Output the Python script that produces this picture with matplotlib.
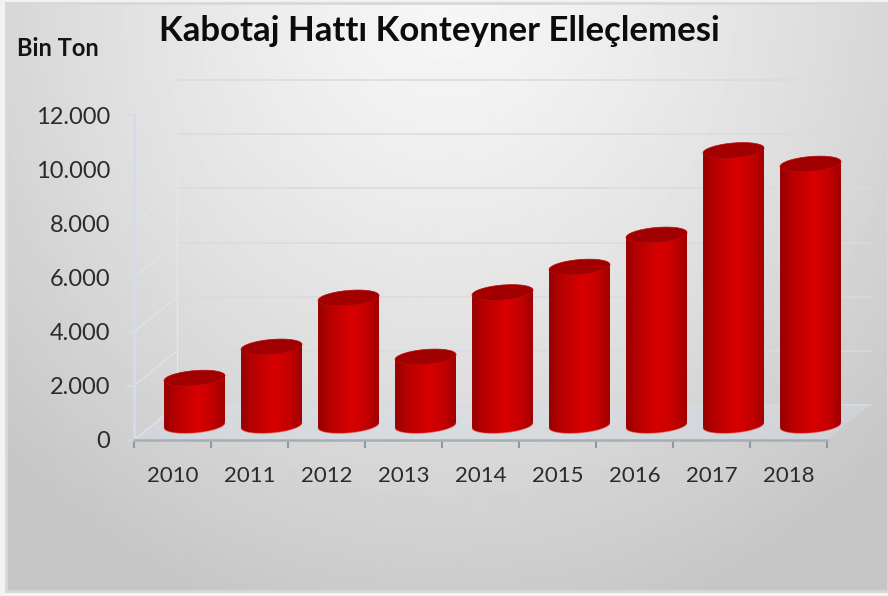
import numpy as np
import matplotlib
matplotlib.use('Agg')
import matplotlib.pyplot as plt
from matplotlib.colors import LinearSegmentedColormap
from matplotlib.patches import Polygon

years = ['2010', '2011', '2012', '2013', '2014', '2015', '2016', '2017', '2018']
tonnage = [1750, 2900, 4710, 2530, 4910, 5850, 7035, 10155, 9655]
y_ticks = [0, 2000, 4000, 6000, 8000, 10000, 12000]
y_labels = ['0', '2.000', '4.000', '6.000', '8.000', '10.000', '12.000']

plt.rcParams['font.family'] = ['Lato', 'DejaVu Sans']

fig = plt.figure(figsize=(8.88, 5.96), dpi=100, facecolor='#f2f2f2')

# grey background, light at the top middle and darker towards the corners
bg_ax = fig.add_axes([6 / 888, 5 / 596, 882 / 888, 588 / 596], zorder=-1)
xx, yy = np.meshgrid(np.linspace(0, 1, 441), np.linspace(0, 1, 294))
dist = np.sqrt(((xx - 0.5) * 1.5) ** 2 + (yy * 0.95) ** 2)
shade = 0.965 - 0.19 * np.clip(dist / 1.05, 0, 1) ** 1.3
bg_ax.imshow(shade, cmap='gray', vmin=0, vmax=1, aspect='auto')
bg_ax.set_xticks([])
bg_ax.set_yticks([])
for s in bg_ax.spines.values():
    s.set_color('#d8d8d8')
    s.set_linewidth(2)

ax = fig.add_axes([134 / 888, 156 / 596, 693 / 888, 325 / 596])
ax.patch.set_visible(False)

# 3d offsets of the chart box, in axis units
wall_dx = 0.558
wall_dy = 1292
bar_dx = 0.286
bar_dy = 535
bar_a = 0.396
bar_h = 277
bar_tilt = 92
x0, x1 = -0.5, 8.5

# back wall and floor
floor = Polygon([(x0, 0), (x1, 0), (x1 + wall_dx, wall_dy), (x0 + wall_dx, wall_dy)],
                closed=True, fc='#d6dfea', ec='none', alpha=0.35, clip_on=False, zorder=1)
ax.add_patch(floor)
for v in y_ticks:
    ax.plot([x0 + wall_dx, x1 + wall_dx], [v + wall_dy, v + wall_dy], color='#d8dbde',
            lw=1.1, clip_on=False, zorder=1)
    ax.plot([x0, x0 + wall_dx], [v, v + wall_dy], color='#e0e3e6', lw=1, clip_on=False, zorder=1)
ax.plot([x0 + wall_dx, x0 + wall_dx], [wall_dy, 12000 + wall_dy], color='#e4e7ea', lw=1,
        clip_on=False, zorder=1)

# red cylinders
red_map = LinearSegmentedColormap.from_list(
    'cyl', [(0, '#960000'), (0.2, '#b80000'), (0.55, '#d80000'), (0.8, '#c40000'), (1, '#a00000')])
t = np.linspace(0, 2 * np.pi, 120)
grad = np.linspace(0, 1, 256)[None, :]

for i, val in enumerate(tonnage):
    cx = i + bar_dx
    base = bar_dy
    top = bar_dy + val
    low = t[(t >= np.pi)]
    xs = cx + bar_a * np.cos(low)
    ys = base + bar_h * np.sin(low) + bar_tilt * np.cos(low)
    body = np.vstack([np.column_stack([xs, ys]),
                      [cx + bar_a, top + bar_tilt], [cx - bar_a, top - bar_tilt]])
    poly = Polygon(body, closed=True, fc='none', ec='none', zorder=3, clip_on=False)
    ax.add_patch(poly)
    im = ax.imshow(grad, cmap=red_map, aspect='auto', zorder=3,
                   extent=[cx - bar_a, cx + bar_a, base - bar_h - bar_tilt, top + bar_tilt])
    im.set_clip_box(fig.bbox)
    im.set_clip_path(poly)
    ax.plot(xs, ys, color='#f08080', lw=0.8, alpha=0.5, zorder=3, clip_on=False)
    ax.fill(cx + bar_a * np.cos(t), top + bar_h * np.sin(t) + bar_tilt * np.cos(t),
            color='#a20000', ec='#b80c0c', lw=0.5, zorder=4, clip_on=False)

ax.set_xlim(x0, x1)
ax.set_ylim(0, 12000)

ax.set_xticks(np.arange(x0, x1 + 1))
ax.set_xticklabels([])
for i, y in enumerate(years):
    ax.text(i, -1330, y, ha='center', va='center', fontsize=16, color='#2b2b2b')
ax.set_yticks(y_ticks)
ax.set_yticklabels(y_labels, fontsize=17, color='#2b2b2b')
ax.tick_params(axis='y', length=5, width=1.2, color='#d5dee9', pad=12)
ax.tick_params(axis='x', length=6, width=1.5, color='#8f98a3', direction='out')
for name in ['top', 'right']:
    ax.spines[name].set_visible(False)
ax.spines['left'].set_color('#d2dcea')
ax.spines['left'].set_linewidth(2)
ax.spines['bottom'].set_color('#a4adb8')
ax.spines['bottom'].set_linewidth(1.8)

fig.text(439 / 888, 1 - 31 / 596, 'Kabotaj Hattı Konteyner Elleçlemesi', ha='center', va='center',
         fontsize=25, fontweight='bold', color='#0c0c0c')
fig.text(58 / 888, 1 - 49 / 596, 'Bin Ton', ha='center', va='center',
         fontsize=17, fontweight='bold', color='#141414')

fig.savefig('out.png', dpi=100, facecolor=fig.get_facecolor())
